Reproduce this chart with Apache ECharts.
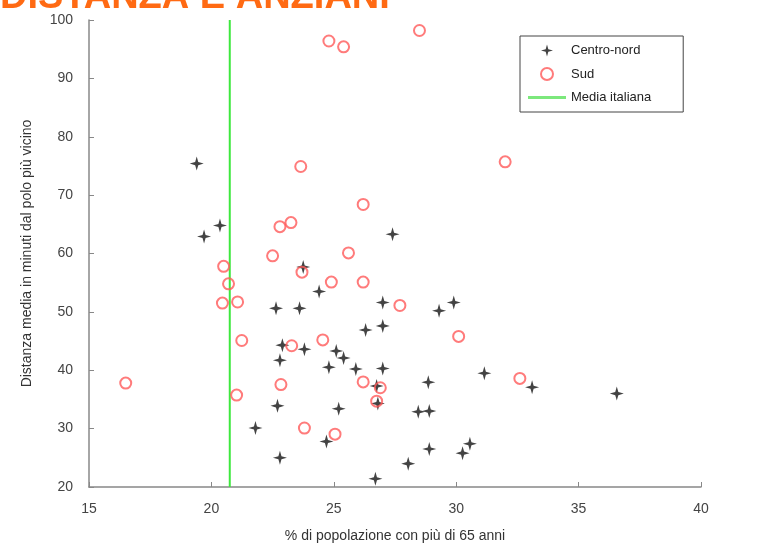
<!DOCTYPE html>
<html>
<head>
<meta charset="utf-8">
<script src="https://cdn.jsdelivr.net/npm/echarts@6/dist/echarts.min.js"></script>
<style>
  html, body { margin: 0; padding: 0; background: #fff; }
  #chartContainer { width: 769px; height: 548px; }
</style>
</head>
<body>
<div id="chartContainer"></div>
<script>
// Centro-nord: [% over 65, minutes to nearest pole]
const centroNord = [
    [19.4, 75.4], [20.35, 64.8], [19.7, 62.9], [22.64, 50.6], [23.6, 50.6],
    [23.75, 57.7], [24.4, 53.5], [27.4, 63.3], [27.0, 51.6], [29.9, 51.6],
    [29.3, 50.2], [27.0, 47.6], [26.3, 46.9], [22.9, 44.3], [23.8, 43.6],
    [22.8, 41.7], [25.1, 43.3], [25.4, 42.1], [24.8, 40.5], [25.9, 40.2],
    [27.0, 40.3], [26.75, 37.3], [26.8, 34.3], [22.7, 33.9], [25.2, 33.4],
    [21.8, 30.1], [24.7, 27.8], [22.8, 25.0], [26.7, 21.4], [28.86, 37.95],
    [31.15, 39.5], [33.1, 37.1], [28.45, 32.9], [28.9, 33.0], [28.9, 26.5],
    [30.26, 25.8], [30.56, 27.4], [28.04, 24.0], [36.56, 36.0]
];

const sud = [
    [24.8, 96.4], [25.4, 95.4], [28.5, 98.2], [32.0, 75.7], [23.65, 74.9],
    [26.2, 68.4], [22.8, 64.6], [23.25, 65.3], [22.5, 59.6], [25.6, 60.1],
    [20.5, 57.8], [23.7, 56.8], [20.7, 54.8], [24.9, 55.1], [26.2, 55.1],
    [20.45, 51.5], [21.07, 51.7], [27.7, 51.1], [21.24, 45.1], [23.28, 44.2],
    [24.55, 45.2], [30.1, 45.8], [16.5, 37.8], [22.84, 37.55], [26.2, 38.0],
    [26.9, 37.0], [26.75, 34.7], [21.03, 35.75], [32.6, 38.6], [23.8, 30.1],
    [25.05, 29.05]
];

const mediaItaliana = 20.75;
const yRange = [20, 100];

const starPath = 'path://M0,-10 L2.2,-2.2 L10,0 L2.2,2.2 L0,10 L-2.2,2.2 L-10,0 L-2.2,-2.2 Z';
const linePath = 'path://M0,0 L40,0 L40,3 L0,3 Z';

const myChart = echarts.init(document.getElementById('chartContainer'));

const option = {
    animation: false,
    backgroundColor: '#fff',
    textStyle: { fontFamily: 'Liberation Sans, Arial, sans-serif' },
    graphic: [{
        type: 'text',
        left: 0,
        top: -21,
        style: {
            text: 'DISTANZA E ANZIANI',
            fill: '#ff6a13',
            font: 'bold 38px Liberation Sans, Arial, sans-serif'
        }
    }],
    grid: { left: 89, right: 68, top: 20, bottom: 58 },
    legend: {
        orient: 'vertical',
        left: 520,
        top: 36,
        padding: [8, 32, 8, 8],
        itemGap: 10,
        itemWidth: 38,
        itemHeight: 12,
        borderColor: '#444',
        borderWidth: 1,
        backgroundColor: '#fff',
        textStyle: { fontSize: 13, color: '#222' },
        data: [
            { name: 'Centro-nord', icon: starPath, itemStyle: { color: '#222' } },
            { name: 'Sud', icon: 'circle',
              itemStyle: { color: 'rgba(255,255,255,0)', borderColor: '#ff5a5a', borderWidth: 2 } },
            { name: 'Media italiana', icon: linePath, itemStyle: { color: '#7ce87c' } }
        ]
    },
    xAxis: {
        type: 'value',
        min: 15,
        max: 40,
        interval: 5,
        name: '% di popolazione con più di 65 anni',
        nameLocation: 'middle',
        nameGap: 42,
        nameTextStyle: { fontSize: 14, color: '#333' },
        axisLine: { lineStyle: { color: '#888', width: 1.5 } },
        axisTick: { inside: true, length: 5, lineStyle: { color: '#888' } },
        axisLabel: { fontSize: 14, color: '#444', margin: 15 },
        splitLine: { show: false }
    },
    yAxis: {
        type: 'value',
        min: yRange[0],
        max: yRange[1],
        interval: 10,
        name: 'Distanza media in minuti dal polo più vicino',
        nameLocation: 'middle',
        nameGap: 55,
        nameTextStyle: { fontSize: 14, color: '#333' },
        axisLine: { show: true, lineStyle: { color: '#888', width: 1.5 } },
        axisTick: { show: true, inside: true, length: 5, lineStyle: { color: '#888' } },
        axisLabel: { fontSize: 14, color: '#444', margin: 16 },
        splitLine: { show: false }
    },
    series: [
        {
            name: 'Centro-nord',
            type: 'scatter',
            symbol: starPath,
            symbolSize: 14,
            itemStyle: { color: '#222', opacity: 0.85 },
            data: centroNord,
            z: 3
        },
        {
            name: 'Sud',
            type: 'scatter',
            symbol: 'circle',
            symbolSize: 11,
            itemStyle: { color: 'rgba(255,255,255,0)', borderColor: '#ff5a5a', borderWidth: 2 },
            data: sud,
            z: 4
        },
        {
            name: 'Media italiana',
            type: 'line',
            symbol: 'none',
            lineStyle: { color: '#3ee83e', width: 2 },
            itemStyle: { color: '#3ee83e' },
            data: [[mediaItaliana, yRange[0]], [mediaItaliana, yRange[1]]],
            z: 2
        }
    ]
};

myChart.setOption(option);
</script>
</body>
</html>
